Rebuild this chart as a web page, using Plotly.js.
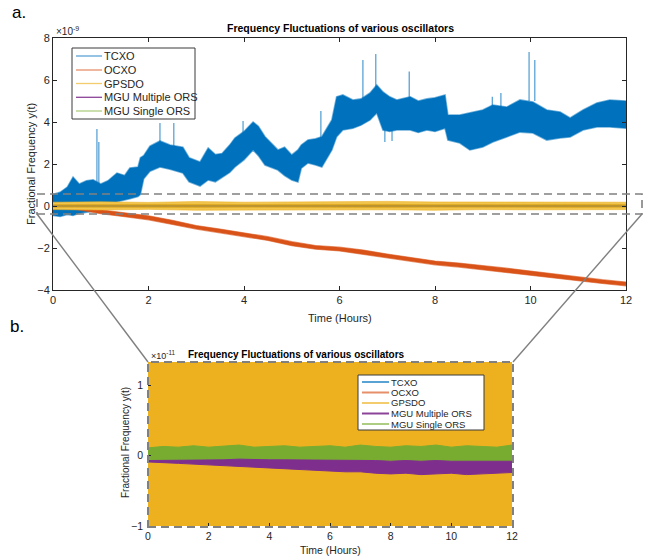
<!DOCTYPE html>
<html><head><meta charset="utf-8">
<script src="https://cdn.plot.ly/plotly-3.0.1.min.js"></script>
<style>html,body{margin:0;padding:0;background:#fff}#c{width:652px;height:559px}</style>
</head><body><div id="c"></div>
<script>
// ---------------- DATA ----------------
// Top panel values in units of 1e-9, bottom panel MGU values in units of 1e-11
const seriesNames = ["TCXO", "OCXO", "GPSDO", "MGU Multiple ORS", "MGU Single ORS"];

// TCXO noise envelope
const tcxoT  = [0.00,0.15,0.30,0.42,0.55,0.70,0.84,1.00,1.15,1.34,1.50,1.61,1.78,1.83,1.90,2.03,2.24,2.45,2.72,2.85,3.08,3.25,3.40,3.54,3.70,3.81,4.00,4.19,4.30,4.44,4.71,4.85,5.00,5.13,5.20,5.34,5.50,5.63,5.84,5.94,6.07,6.28,6.45,6.64,6.78,6.91,7.05,7.20,7.48,7.65,7.83,8.00,8.21,8.27,8.52,8.73,9.00,9.21,9.50,9.78,10.05,10.34,10.62,10.83,11.10,11.39,11.66,12.00];
const tcxoLo = [-0.45,-0.50,-0.40,-0.45,-0.35,-0.30,-0.25,-0.20,0.05,0.20,0.30,0.35,0.45,0.55,1.30,1.65,1.86,1.75,1.57,1.15,0.95,1.24,1.15,1.38,1.60,1.86,2.20,2.67,2.40,1.95,1.71,1.45,1.24,1.14,1.80,2.05,1.95,1.86,2.67,3.30,3.62,3.70,3.85,4.10,4.43,3.62,3.55,3.62,3.62,3.50,3.62,3.55,3.70,3.14,3.00,2.67,2.81,3.05,3.29,3.52,3.48,3.14,3.24,3.29,3.62,3.76,3.76,3.70];
const tcxoHi = [0.55,0.65,0.90,1.38,1.05,1.20,1.25,1.05,1.20,1.57,1.45,1.81,1.86,2.30,2.40,2.85,3.10,2.90,2.80,2.30,2.10,2.76,2.45,2.50,2.90,3.24,3.55,4.00,3.80,3.30,2.67,2.80,2.43,2.67,2.90,3.14,3.20,3.30,4.10,5.20,5.29,5.05,5.10,5.38,5.76,5.43,5.20,5.05,5.20,5.00,5.10,5.15,5.29,4.33,4.33,4.43,4.57,4.81,4.71,5.05,4.95,4.57,4.48,4.19,4.57,4.90,5.05,5.00];
// TCXO isolated spikes
const spikeT    = [0.92,0.96,2.24,2.53,3.98,5.61,6.49,6.76,6.95,7.10,7.46,9.20,9.38,9.97,10.09];
const spikeBase = [1.00,1.00,2.90,2.80,3.40,3.20,5.10,5.50,3.70,3.60,5.10,4.70,4.70,5.00,5.00];
const spikePeak = [3.67,3.05,3.95,3.95,4.05,4.52,6.95,7.24,3.05,3.10,6.40,5.20,5.38,7.33,6.95];

// OCXO envelope
const ocxoT  = [0,0.5,1,1.5,2,2.5,3,3.5,4,4.5,5,5.5,6,6.5,7,7.5,8,8.5,9,9.5,10,10.5,11,11.5,12];
const ocxoHi = [0.08,0.02,-0.18,-0.33,-0.47,-0.68,-0.93,-1.10,-1.29,-1.46,-1.70,-1.88,-1.96,-2.10,-2.29,-2.46,-2.62,-2.72,-2.83,-2.96,-3.10,-3.24,-3.39,-3.51,-3.62];
const ocxoLo = [-0.08,-0.17,-0.37,-0.51,-0.66,-0.88,-1.10,-1.29,-1.46,-1.64,-1.89,-2.06,-2.14,-2.29,-2.46,-2.64,-2.80,-2.91,-3.01,-3.14,-3.28,-3.42,-3.56,-3.69,-3.80];

// GPSDO envelope (outer spread and dense core)
const gpsT      = [0,1,2,3,4,5,6,7,8,9,10,11,12];
const gpsHi     = [0.18,0.20,0.17,0.21,0.18,0.19,0.20,0.22,0.19,0.18,0.20,0.19,0.18];
const gpsLo     = [-0.17,-0.19,-0.16,-0.20,-0.18,-0.17,-0.19,-0.18,-0.20,-0.17,-0.18,-0.19,-0.17];
const gpsCoreHi = [0.07,0.08,0.07,0.08,0.07,0.08,0.07,0.08,0.07,0.08,0.07,0.08,0.07];
const gpsCoreLo = [-0.06,-0.07,-0.06,-0.07,-0.06,-0.07,-0.06,-0.07,-0.06,-0.07,-0.06,-0.07,-0.06];

// MGU envelopes (units of 1e-11)
const mguT = [0,0.5,1,1.5,2,2.5,3,3.5,4,4.5,5,5.5,6,6.5,7,7.5,8,8.5,9,9.5,10,10.5,11,11.5,12];
const singleHi = [0.11,0.13,0.12,0.14,0.12,0.13,0.15,0.12,0.13,0.14,0.12,0.13,0.14,0.12,0.15,0.13,0.12,0.14,0.13,0.15,0.12,0.14,0.13,0.12,0.15];
const singleLo = [-0.07,-0.07,-0.07,-0.06,-0.06,-0.06,-0.06,-0.06,-0.06,-0.06,-0.06,-0.07,-0.07,-0.07,-0.07,-0.07,-0.07,-0.08,-0.08,-0.08,-0.08,-0.08,-0.08,-0.08,-0.08];
const multHi = [-0.07,-0.07,-0.07,-0.06,-0.06,-0.06,-0.05,-0.06,-0.06,-0.06,-0.06,-0.07,-0.07,-0.07,-0.07,-0.07,-0.08,-0.07,-0.08,-0.07,-0.08,-0.08,-0.07,-0.08,-0.08];
const multLo = [-0.09,-0.10,-0.11,-0.12,-0.14,-0.14,-0.16,-0.17,-0.18,-0.18,-0.19,-0.21,-0.22,-0.23,-0.23,-0.25,-0.26,-0.25,-0.27,-0.26,-0.25,-0.27,-0.26,-0.25,-0.24];

const xTicks = [0,2,4,6,8,10,12];
const yTicksTop = [-4,-2,0,2,4,6,8];
const yTicksBottom = [-1,0,1];

// ---------------- STYLE ----------------
const colors = ["#0072BD","#D95319","#EDB120","#7E2F8E","#77AC30"];
const legendColors = ["rgba(0,114,189,0.65)","rgba(217,83,25,0.65)","rgba(237,177,32,0.65)","rgba(126,47,142,0.9)","rgba(119,172,48,0.6)"];
const W = 652, H = 559;
const X = x => x / W, Y = y => 1 - y / H;
const FONT = "Liberation Sans, Arial, sans-serif";
const AX = "#262626";

function band(t, lo, hi, scale, xa, ya, fill, lineColor, lw) {
  const xs = t.concat(t.slice().reverse());
  const ys = hi.map(v => v*scale).concat(lo.slice().reverse().map(v => v*scale));
  return {x: xs, y: ys, xaxis: xa, yaxis: ya, type: "scatter", mode: "lines", fill: "toself",
          fillcolor: fill, line: {color: lineColor, width: lw}, showlegend: false, hoverinfo: "skip"};
}

const spikeX = [], spikeY = [];
spikeT.forEach((t, i) => { spikeX.push(t, t, null); spikeY.push(spikeBase[i], spikePeak[i], null); });

const traces = [
  band(tcxoT, tcxoLo, tcxoHi, 1, "x", "y", colors[0], "rgba(0,114,189,0.55)", 1.6),
  {x: spikeX, y: spikeY, xaxis: "x", yaxis: "y", type: "scatter", mode: "lines", line: {color: "rgba(0,114,189,0.7)", width: 1.2}, showlegend: false, hoverinfo: "skip"},
  band(ocxoT, ocxoLo, ocxoHi, 1, "x", "y", colors[1], "rgba(217,83,25,0.6)", 1.2),
  band(gpsT, gpsLo, gpsHi, 1, "x", "y", "#F2C54E", "rgba(237,177,32,0.6)", 1),
  band(gpsT, gpsCoreLo, gpsCoreHi, 1, "x", "y", "#DDA61C", "#DDA61C", 0.5),
  {x: mguT, y: multHi.map(v => v/100), xaxis: "x", yaxis: "y", type: "scatter", mode: "lines", line: {color: "rgba(126,47,142,0.35)", width: 1}, showlegend: false, hoverinfo: "skip"},
  {x: mguT, y: singleHi.map(v => v/100), xaxis: "x", yaxis: "y", type: "scatter", mode: "lines", line: {color: "rgba(119,172,48,0.35)", width: 1}, showlegend: false, hoverinfo: "skip"},
  // bottom (zoomed) panel: GPSDO converted from 1e-9 to 1e-11 units
  band(gpsT, gpsLo, gpsHi, 100, "x2", "y2", colors[2], colors[2], 1),
  band(mguT, singleLo, singleHi, 1, "x2", "y2", colors[4], colors[4], 1),
  band(mguT, multLo, multHi, 1, "x2", "y2", colors[3], colors[3], 1)
];

const tickFont = {family: FONT, size: 11, color: AX};
const layout = {
  width: W, height: H, margin: {l: 0, r: 0, t: 0, b: 0},
  paper_bgcolor: "#fff", plot_bgcolor: "#fff", showlegend: false,
  xaxis: {domain: [X(53), X(626)], anchor: "y", range: [0, 12], tickvals: xTicks, ticks: "inside", ticklen: 4,
          showline: true, mirror: "ticks", linecolor: AX, tickcolor: AX, linewidth: 1, showgrid: false, zeroline: false, tickfont: tickFont},
  yaxis: {domain: [Y(290), Y(38)], anchor: "x", range: [-4, 8], tickvals: yTicksTop, ticks: "inside", ticklen: 4,
          showline: true, mirror: "ticks", linecolor: AX, tickcolor: AX, linewidth: 1, showgrid: false, zeroline: false, tickfont: tickFont},
  xaxis2: {domain: [X(148), X(512)], anchor: "y2", range: [0, 12], tickvals: xTicks, ticks: "inside", ticklen: 3, ticklabelstandoff: 2,
           showline: false, tickcolor: AX, showgrid: false, zeroline: false, tickfont: {family: FONT, size: 10.5, color: AX}},
  yaxis2: {domain: [Y(526), Y(362)], anchor: "x2", range: [-1, 1.33], tickvals: yTicksBottom, ticks: "inside", ticklen: 3, ticklabelstandoff: 4,
           showline: false, tickcolor: AX, showgrid: false, zeroline: false, tickfont: {family: FONT, size: 10.5, color: AX}},
  shapes: [], annotations: []
};

const gray = "#808080";
// zoom rectangle, connectors, zoomed panel frame
layout.shapes.push({type: "rect", xref: "paper", yref: "paper", x0: X(37), x1: X(642), y0: Y(214), y1: Y(194), line: {color: gray, width: 1.6, dash: "8px,5px"}, layer: "above"});
layout.shapes.push({type: "line", xref: "paper", yref: "paper", x0: X(37), y0: Y(214), x1: X(148), y1: Y(362), line: {color: gray, width: 1.4}, layer: "above"});
layout.shapes.push({type: "line", xref: "paper", yref: "paper", x0: X(642), y0: Y(214), x1: X(513), y1: Y(362), line: {color: gray, width: 1.4}, layer: "above"});
layout.shapes.push({type: "rect", xref: "paper", yref: "paper", x0: X(148), x1: X(513), y0: Y(527), y1: Y(362), line: {color: gray, width: 2, dash: "8px,5px"}, layer: "above"});

const ann = (x, y, text, size, extra) => layout.annotations.push(Object.assign({xref: "paper", yref: "paper", x: X(x), y: Y(y), text: text, showarrow: false, xanchor: "center", yanchor: "middle", font: {family: FONT, size: size, color: AX}}, extra || {}));

function addLegend(box, x0, x1, xt, ys, fs, lw) {
  layout.shapes.push({type: "rect", xref: "paper", yref: "paper", x0: X(box[0]), x1: X(box[1]), y0: Y(box[3]), y1: Y(box[2]), fillcolor: "#fff", line: {color: "#3a3a3a", width: 1}, layer: "above"});
  seriesNames.forEach((n, i) => {
    layout.shapes.push({type: "line", xref: "paper", yref: "paper", x0: X(x0), x1: X(x1), y0: Y(ys[i]), y1: Y(ys[i]), line: {color: legendColors[i], width: lw}, layer: "above"});
    ann(xt, ys[i], n, fs, {xanchor: "left"});
  });
}
addLegend([72, 195, 48, 119], 76, 102, 102, [56, 70, 83.5, 97.3, 111], 11, 1.3);
addLegend([358, 484, 375, 430], 362, 389, 389, [382, 392.5, 403, 413.5, 424], 9.5, 2);

ann(10, 12, "a.", 17, {xanchor: "left", font: {family: FONT, size: 17, color: "#000"}});
ann(8, 326, "b.", 17, {xanchor: "left", font: {family: FONT, size: 17, color: "#000"}});
ann(340, 28, "<b>Frequency Fluctuations of various oscillators</b>", 10.5, {font: {family: FONT, size: 10.5, color: "#000"}});
ann(54, 31, "×10<sup>-9</sup>", 10, {xanchor: "left"});
ann(340, 318, "Time (Hours)", 11);
ann(31, 164, "Fractional Frequency y(t)", 11, {textangle: -90});
ann(186, 354, "<b>Frequency Fluctuations of various oscillators</b>", 10, {xanchor: "left", font: {family: FONT, size: 10, color: "#000"}});
ann(149, 355, "×10<sup>-11</sup>", 9, {xanchor: "left"});
ann(330, 550, "Time (Hours)", 10.5);
ann(125, 443, "Fractional Frequency y(t)", 10, {textangle: -90});

Plotly.newPlot("c", traces, layout, {staticPlot: true, displayModeBar: false});
</script></body></html>
